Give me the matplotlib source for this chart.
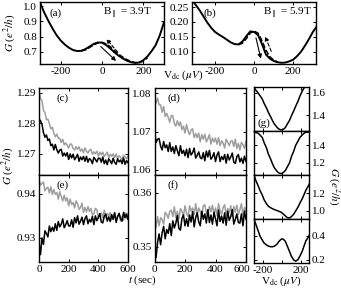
import matplotlib
matplotlib.use('Agg')
import matplotlib.pyplot as plt
from matplotlib.ticker import FormatStrFormatter
from matplotlib.transforms import ScaledTranslation

plt.rcParams['font.family'] = ['Liberation Serif', 'DejaVu Serif']
plt.rcParams['mathtext.fontset'] = 'stix'
plt.rcParams['font.size'] = 8
plt.rcParams['axes.unicode_minus'] = False

# ---------------- data ----------------
# panel (a)
va = list(range(-300, 301, 20))
ga_solid = [1.025, 0.96, 0.905, 0.855, 0.81, 0.775, 0.748, 0.727, 0.712, 0.705, 0.707,
            0.718, 0.735, 0.752, 0.762, 0.760, 0.745, 0.722, 0.697, 0.675, 0.657,
            0.642, 0.632, 0.627, 0.630, 0.645, 0.670, 0.705, 0.745, 0.81, 0.895]
va_sweep = list(range(-100, 221, 20))
ga_dash = [0.706, 0.712, 0.728, 0.745, 0.758, 0.763, 0.753, 0.734, 0.709, 0.686, 0.666,
           0.650, 0.637, 0.630, 0.628, 0.638, 0.660]
ga_dot = [0.707, 0.715, 0.731, 0.749, 0.760, 0.762, 0.749, 0.728, 0.703, 0.680, 0.661,
          0.646, 0.634, 0.628, 0.629, 0.641, 0.665]

# panel (b)
vb = list(range(-320, 321, 20))
gb_solid = [0.276, 0.258, 0.240, 0.219, 0.198, 0.180, 0.166, 0.157, 0.149, 0.140, 0.131,
            0.125, 0.124, 0.134, 0.152, 0.168, 0.166, 0.155, 0.125, 0.090, 0.076,
            0.068, 0.064, 0.062, 0.063, 0.067, 0.073, 0.085, 0.100, 0.120, 0.142,
            0.166, 0.185]
vb_sweep = list(range(-80, 121, 20))
gb_dash = [0.123, 0.128, 0.143, 0.162, 0.169, 0.162, 0.137, 0.105, 0.083, 0.071, 0.065]
gb_dot = [0.124, 0.131, 0.148, 0.165, 0.168, 0.159, 0.131, 0.098, 0.080, 0.070, 0.064]

# panels (c)-(f): time traces
t = list(range(0, 601, 10))
c_gray = [1.2911, 1.2880, 1.2874, 1.2841, 1.2835, 1.2811, 1.2813, 1.2798, 1.2781, 1.2786,
          1.2767, 1.2755, 1.2764, 1.2750, 1.2750, 1.2737, 1.2747, 1.2729, 1.2735, 1.2727,
          1.2718, 1.2731, 1.2731, 1.2717, 1.2712, 1.2723, 1.2714, 1.2722, 1.2708, 1.2715,
          1.2703, 1.2719, 1.2708, 1.2702, 1.2711, 1.2714, 1.2698, 1.2706, 1.2699, 1.2708,
          1.2692, 1.2705, 1.2696, 1.2705, 1.2691, 1.2697, 1.2705, 1.2687, 1.2698, 1.2691,
          1.2699, 1.2687, 1.2699, 1.2684, 1.2693, 1.2688, 1.2680, 1.2695, 1.2690, 1.2683, 1.2692]
c_black = [1.2813, 1.2808, 1.2796, 1.2769, 1.2754, 1.2761, 1.2743, 1.2748, 1.2726, 1.2731,
           1.2712, 1.2730, 1.2713, 1.2702, 1.2712, 1.2714, 1.2692, 1.2702, 1.2692, 1.2703,
           1.2681, 1.2699, 1.2686, 1.2698, 1.2680, 1.2688, 1.2698, 1.2675, 1.2689, 1.2680,
           1.2691, 1.2675, 1.2691, 1.2672, 1.2684, 1.2679, 1.2667, 1.2688, 1.2681, 1.2673,
           1.2685, 1.2685, 1.2672, 1.2689, 1.2667, 1.2679, 1.2664, 1.2683, 1.2676, 1.2667,
           1.2685, 1.2671, 1.2665, 1.2683, 1.2673, 1.2679, 1.2667, 1.2686, 1.2665, 1.2677, 1.2670]
d_gray = [1.0791, 1.0774, 1.0787, 1.0769, 1.0769, 1.0750, 1.0765, 1.0739, 1.0747, 1.0737,
          1.0724, 1.0741, 1.0741, 1.0721, 1.0714, 1.0728, 1.0715, 1.0725, 1.0705, 1.0714,
          1.0696, 1.0718, 1.0702, 1.0692, 1.0704, 1.0707, 1.0684, 1.0695, 1.0684, 1.0696,
          1.0673, 1.0692, 1.0680, 1.0693, 1.0673, 1.0681, 1.0692, 1.0667, 1.0683, 1.0673,
          1.0683, 1.0667, 1.0684, 1.0663, 1.0676, 1.0670, 1.0657, 1.0680, 1.0672, 1.0663,
          1.0675, 1.0676, 1.0661, 1.0680, 1.0656, 1.0669, 1.0652, 1.0672, 1.0666, 1.0656, 1.0675]
d_black = [1.0708, 1.0671, 1.0680, 1.0682, 1.0662, 1.0652, 1.0674, 1.0658, 1.0665, 1.0648,
           1.0671, 1.0648, 1.0660, 1.0643, 1.0663, 1.0650, 1.0637, 1.0663, 1.0643, 1.0651,
           1.0637, 1.0654, 1.0632, 1.0656, 1.0639, 1.0645, 1.0657, 1.0631, 1.0638, 1.0647,
           1.0632, 1.0629, 1.0645, 1.0624, 1.0649, 1.0634, 1.0651, 1.0628, 1.0634, 1.0645,
           1.0622, 1.0639, 1.0647, 1.0622, 1.0635, 1.0627, 1.0640, 1.0618, 1.0641, 1.0626,
           1.0634, 1.0644, 1.0620, 1.0617, 1.0635, 1.0640, 1.0621, 1.0631, 1.0617, 1.0636, 1.0622]
e_gray = [0.9433, 0.9420, 0.9424, 0.9427, 0.9407, 0.9413, 0.9415, 0.9402, 0.9416, 0.9399,
          0.9410, 0.9399, 0.9403, 0.9388, 0.9405, 0.9394, 0.9384, 0.9397, 0.9384, 0.9391,
          0.9373, 0.9388, 0.9376, 0.9380, 0.9368, 0.9384, 0.9377, 0.9365, 0.9369, 0.9379,
          0.9358, 0.9369, 0.9359, 0.9371, 0.9360, 0.9367, 0.9352, 0.9355, 0.9367, 0.9364,
          0.9346, 0.9353, 0.9357, 0.9346, 0.9363, 0.9346, 0.9355, 0.9350, 0.9358, 0.9341,
          0.9346, 0.9358, 0.9342, 0.9349, 0.9354, 0.9338, 0.9350, 0.9340, 0.9358, 0.9344, 0.9355]
e_black = [0.9290, 0.9262, 0.9300, 0.9285, 0.9316, 0.9310, 0.9302, 0.9327, 0.9314, 0.9324,
           0.9315, 0.9332, 0.9317, 0.9337, 0.9325, 0.9331, 0.9343, 0.9323, 0.9330, 0.9339,
           0.9327, 0.9327, 0.9341, 0.9324, 0.9346, 0.9334, 0.9350, 0.9331, 0.9338, 0.9347,
           0.9330, 0.9344, 0.9350, 0.9332, 0.9342, 0.9336, 0.9349, 0.9330, 0.9350, 0.9339,
           0.9346, 0.9355, 0.9336, 0.9334, 0.9349, 0.9354, 0.9338, 0.9348, 0.9337, 0.9353,
           0.9342, 0.9357, 0.9335, 0.9348, 0.9356, 0.9343, 0.9338, 0.9358, 0.9346, 0.9354, 0.9342]
f_gray = [0.3548, 0.3536, 0.3556, 0.3539, 0.3554, 0.3551, 0.3542, 0.3564, 0.3560, 0.3553,
          0.3566, 0.3568, 0.3556, 0.3574, 0.3554, 0.3566, 0.3552, 0.3571, 0.3566, 0.3557,
          0.3576, 0.3562, 0.3556, 0.3576, 0.3566, 0.3572, 0.3560, 0.3580, 0.3560, 0.3572,
          0.3565, 0.3556, 0.3576, 0.3578, 0.3563, 0.3559, 0.3575, 0.3565, 0.3577, 0.3561,
          0.3572, 0.3558, 0.3580, 0.3567, 0.3560, 0.3573, 0.3578, 0.3559, 0.3571, 0.3563,
          0.3576, 0.3556, 0.3575, 0.3564, 0.3577, 0.3560, 0.3569, 0.3580, 0.3558, 0.3573, 0.3565]
f_black = [0.3490, 0.3480, 0.3508, 0.3524, 0.3504, 0.3526, 0.3538, 0.3515, 0.3532, 0.3525,
           0.3543, 0.3521, 0.3548, 0.3535, 0.3544, 0.3558, 0.3534, 0.3531, 0.3553, 0.3559,
           0.3539, 0.3552, 0.3538, 0.3559, 0.3546, 0.3565, 0.3537, 0.3554, 0.3563, 0.3546,
           0.3539, 0.3566, 0.3551, 0.3561, 0.3544, 0.3569, 0.3545, 0.3559, 0.3542, 0.3564,
           0.3552, 0.3539, 0.3568, 0.3547, 0.3557, 0.3544, 0.3563, 0.3540, 0.3566, 0.3549,
           0.3556, 0.3569, 0.3542, 0.3551, 0.3561, 0.3545, 0.3544, 0.3561, 0.3539, 0.3566, 0.3551]

# panel (g): four bias sweeps
vg = [-300, -280, -255, -235, -210, -190, -165, -145, -120, -100, -80, -55, -35, -10,
      10, 35, 55, 80, 100, 125, 145, 170, 190, 215, 235, 255, 280, 300]
g1 = [1.66, 1.625, 1.60, 1.575, 1.545, 1.505, 1.465, 1.425, 1.385, 1.35, 1.32, 1.295, 1.278, 1.27,
      1.272, 1.29, 1.32, 1.355, 1.395, 1.44, 1.48, 1.525, 1.57, 1.615, 1.645, 1.67, 1.69, 1.70]
g2 = [1.55, 1.548, 1.54, 1.52, 1.49, 1.43, 1.37, 1.30, 1.24, 1.185, 1.14, 1.105, 1.083, 1.076,
      1.085, 1.11, 1.15, 1.20, 1.27, 1.335, 1.40, 1.45, 1.49, 1.52, 1.54, 1.55, 1.553, 1.553]
g3 = [1.42, 1.35, 1.29, 1.235, 1.18, 1.125, 1.08, 1.052, 1.035, 1.023, 1.013, 1.004, 0.995, 0.984,
      0.966, 0.942, 0.922, 0.918, 0.933, 0.962, 0.998, 1.042, 1.088, 1.138, 1.188, 1.238, 1.285, 1.33]
g4 = [0.545, 0.50, 0.445, 0.40, 0.365, 0.34, 0.325, 0.315, 0.31, 0.31, 0.315, 0.33, 0.352, 0.372,
      0.375, 0.355, 0.318, 0.27, 0.23, 0.20, 0.19, 0.203, 0.232, 0.272, 0.318, 0.36, 0.39, 0.42]

GRAY = '0.62'

# ---------------- figure ----------------
W, H = 341, 288
fig = plt.figure(figsize=(W / 100, H / 100), dpi=100)


def add(x0, y0, x1, y1):
    return fig.add_axes([x0 / W, 1 - y1 / H, (x1 - x0) / W, (y1 - y0) / H])


def style(ax):
    ax.tick_params(direction='in', top=True, right=True, length=2.5, width=0.7,
                   labelsize=8, pad=2)
    for s in ax.spines.values():
        s.set_linewidth(1.0)


arrow_solid = dict(arrowstyle='-|>', lw=0.8, color='k', mutation_scale=6, shrinkA=0, shrinkB=0)
arrow_dash = dict(arrowstyle='-|>', lw=0.8, color='k', mutation_scale=6, shrinkA=0, shrinkB=0,
                  linestyle=(0, (3, 2)))

# (a)
ax = add(40, 2, 164, 64)
style(ax)
ax.plot(va, ga_solid, color='k', lw=1.4)
ax.plot(va_sweep, ga_dash, color='k', lw=1.0, ls='--')
ax.plot(va_sweep, ga_dot, color='k', lw=1.0, ls=':')
ax.set_xlim(-300, 300)
ax.set_ylim(0.62, 1.028)
ax.set_xticks([-200, 0, 200])
ax.set_yticks([0.7, 0.8, 0.9, 1.0])
ax.yaxis.set_major_formatter(FormatStrFormatter('%.1f'))
ax.annotate('', xy=(68, 0.640), xytext=(-6, 0.735), arrowprops=arrow_solid)
ax.annotate('', xy=(21, 0.785), xytext=(76, 0.698), arrowprops=arrow_dash)
ax.text(0.08, 0.82, '(a)', transform=ax.transAxes, va='center', ha='left')
ax.text(0.51, 0.82, r'B$_{\parallel}$ = 3.9T', transform=ax.transAxes, va='center', ha='left')

# (b)
ax = add(192, 2, 316, 64)
style(ax)
ax.plot(vb, gb_solid, color='k', lw=1.4)
ax.plot(vb_sweep, gb_dash, color='k', lw=1.0, ls='--')
ax.plot(vb_sweep, gb_dot, color='k', lw=1.0, ls=':')
ax.set_xlim(-318, 316)
ax.set_ylim(0.058, 0.267)
ax.set_xticks([-200, 0, 200])
ax.set_yticks([0.10, 0.15, 0.20, 0.25])
ax.yaxis.set_major_formatter(FormatStrFormatter('%.2f'))
ax.annotate('', xy=(34, 0.076), xytext=(9, 0.146), arrowprops=arrow_solid)
ax.annotate('', xy=(56, 0.151), xytext=(87, 0.101), arrowprops=arrow_dash)
ax.text(0.09, 0.82, '(b)', transform=ax.transAxes, va='center', ha='left')
ax.text(0.57, 0.82, r'B$_{\parallel}$ = 5.9T', transform=ax.transAxes, va='center', ha='left')

# (c)-(f)
panels = [
    ((39, 88, 128, 175), c_gray, c_black, (1.263, 1.2915), [1.27, 1.28, 1.29], '(c)', False),
    ((154.5, 88, 246, 175), d_gray, d_black, (1.0587, 1.0813), [1.06, 1.07, 1.08], '(d)', False),
    ((39, 175, 128, 262), e_gray, e_black, (0.9245, 0.9443), [0.93, 0.94], '(e)', True),
    ((154.5, 175, 246, 262), f_gray, f_black, (0.3472, 0.3633), [0.35, 0.36], '(f)', True),
]
for box, yg, yb, ylim, yt, lab, xl in panels:
    ax = add(*box)
    style(ax)
    ax.plot(t, yg, color=GRAY, lw=1.1)
    ax.plot(t, yb, color='k', lw=1.1)
    ax.set_xlim(0, 600)
    ax.set_ylim(*ylim)
    ax.set_xticks([0, 200, 400, 600])
    ax.set_yticks(yt)
    ax.yaxis.set_major_formatter(FormatStrFormatter('%.2f'))
    if not xl:
        ax.tick_params(labelbottom=False)
    else:
        ax.set_xticklabels(['0', '200', '400', '600'])
        if box[0] > 100:
            last = ax.get_xticklabels()[-1]
            last.set_transform(last.get_transform() +
                               ScaledTranslation(-4 / 100, 0, fig.dpi_scale_trans))
    xoff = 0.2 if box[0] < 100 else 0.137
    ax.text(xoff, 0.885, lab, transform=ax.transAxes, va='center', ha='left')

# (g)
gboxes = [(254, 87, 309, 131), (254, 131, 309, 175), (254, 175, 309, 219), (254, 219, 309, 263)]
gdata = [g1, g2, g3, g4]
glims = [(1.26, 1.652), (1.06, 1.565), (0.906, 1.41), (0.175, 0.54)]
gticks = [[1.4, 1.6], [1.2, 1.4], [1.0, 1.2], [0.2, 0.4]]
for i, (box, gd, gl, gt) in enumerate(zip(gboxes, gdata, glims, gticks)):
    ax = add(*box)
    style(ax)
    ax.plot(vg, gd, color='k', lw=1.1)
    ax.set_xlim(-298, 287)
    ax.set_ylim(*gl)
    ax.set_xticks([-200, 0, 200])
    ax.set_xticklabels(['-200', '', '200'])
    ax.set_yticks(gt)
    ax.yaxis.set_major_formatter(FormatStrFormatter('%.1f'))
    ax.tick_params(labelleft=False, labelright=True)
    if i < 3:
        ax.tick_params(labelbottom=False)
    if i == 0:
        ax.text(0.055, 0.18, '(g)', transform=ax.transAxes, va='center', ha='left')

# shared labels
fig.text(10 / W, 1 - 33 / H, r'$G$ ($e^2/h$)', rotation=90, ha='center', va='center')
fig.text(8 / W, 1 - 166 / H, r'$G$ ($e^2/h$)', rotation=90, ha='center', va='center')
fig.text(183 / W, 1 - 75 / H, r'V$_{\rm dc}$ ($\mu V$)', ha='center', va='center')
fig.text(142 / W, 1 - 280 / H, r'$t$ (sec)', ha='center', va='center')
fig.text(281 / W, 1 - 281.5 / H, r'V$_{\rm dc}$ ($\mu V$)', ha='center', va='center')
fig.text(334 / W, 1 - 186 / H, r'$G$ ($e^2/h$)', rotation=270, ha='center', va='center')

fig.savefig('out.png', dpi=100)
